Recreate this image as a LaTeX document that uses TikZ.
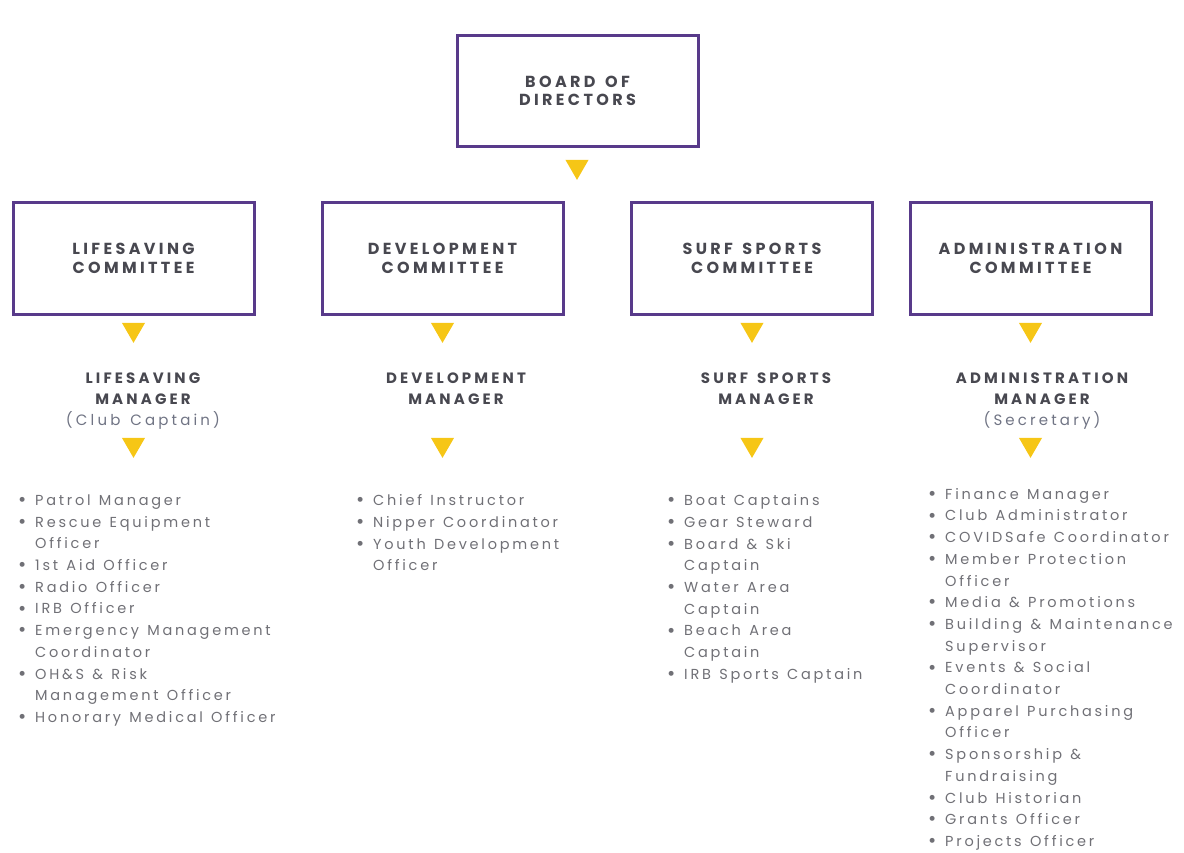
\documentclass[tikz,border=0pt]{standalone}
\usepackage{fontspec}
\setmainfont{Poppins}
\newfontfamily\headfont[LetterSpace=21,WordSpace=1.4]{Poppins}
\newfontfamily\listfont[LetterSpace=19,WordSpace=1.25]{Poppins}
\usetikzlibrary{shapes.geometric}
\definecolor{clubpurple}{RGB}{88,58,138}
\definecolor{clubgold}{RGB}{246,198,22}
\definecolor{headgray}{RGB}{72,72,80}
\definecolor{listgray}{RGB}{112,112,118}
\definecolor{notegray}{RGB}{112,116,132}
\newcommand\itm{\makebox[17pt][l]{\raisebox{-1.2pt}{\fontsize{20}{20}\selectfont\textbullet}}}
\newcommand\cnt{\hspace*{17pt}}

\begin{document}
\begin{tikzpicture}[x=1pt,y=-1pt,
    box/.style={draw=clubpurple,line width=3pt,minimum width=241pt,minimum height=111pt,align=center,
        text=headgray,font=\headfont\bfseries\fontsize{16}{18.5}\selectfont},
    arrowtri/.style={regular polygon,regular polygon sides=3,shape border rotate=180,
        fill=clubgold,minimum size=26.6pt,inner sep=0pt},
    mgr/.style={align=center,anchor=north,inner sep=0pt,text=headgray,
        font=\headfont\bfseries\fontsize{15}{21}\selectfont},
    items/.style={align=left,anchor=north west,inner sep=0pt,text=listgray,
        font=\listfont\fontsize{14.5}{21.7}\selectfont}]
  \useasboundingbox (0,0) rectangle (1184,853);
  % top
  \node[box] (board) at (577.5,91) {BOARD OF\\DIRECTORS};
  \node[arrowtri] (tb) at (577,166.6) {};
  % committee boxes and their arrows
  \foreach \n/\x/\lbl in {ls/133.5/LIFESAVING,dev/442.5/DEVELOPMENT,surf/752/SURF SPORTS,adm/1030.5/ADMINISTRATION}{
    \node[box] (\n) at (\x,258.5) {\lbl\\COMMITTEE};
    \node[arrowtri] (\n t1) at (\x,329.6) {};
    \node[arrowtri] (\n t2) at (\x,444.6) {};
  }
  % managers
  \node[mgr] (lsm) at (143,373) {LIFESAVING\\MANAGER\\{\mdseries\color{notegray}(Club Captain)}};
  \node[mgr] (devm) at (456,373) {DEVELOPMENT\\MANAGER};
  \node[mgr] (surfm) at (766,373) {SURF SPORTS\\MANAGER};
  \node[mgr] (admm) at (1042,373) {ADMINISTRATION\\MANAGER\\{\mdseries\color{notegray}(Secretary)}};
  % lists
  \node[items] (lsl) at (18,494.5) {\itm Patrol Manager\\
    \itm Rescue Equipment\\ \cnt Officer\\
    \itm 1st Aid Officer\\
    \itm Radio Officer\\
    \itm IRB Officer\\
    \itm Emergency Management\\ \cnt Coordinator\\
    \itm OH\&S \& Risk\\ \cnt Management Officer\\
    \itm Honorary Medical Officer};
  \node[items] (devl) at (356,494.5) {\itm Chief Instructor\\
    \itm Nipper Coordinator\\
    \itm Youth Development\\ \cnt Officer};
  \node[items] (surfl) at (667,494.5) {\itm Boat Captains\\
    \itm Gear Steward\\
    \itm Board \& Ski\\ \cnt Captain\\
    \itm Water Area\\ \cnt Captain\\
    \itm Beach Area\\ \cnt Captain\\
    \itm IRB Sports Captain};
  \node[items] (adml) at (928,488) {\itm Finance Manager\\
    \itm Club Administrator\\
    \itm COVIDSafe Coordinator\\
    \itm Member Protection\\ \cnt Officer\\
    \itm Media \& Promotions\\
    \itm Building \& Maintenance\\ \cnt Supervisor\\
    \itm Events \& Social\\ \cnt Coordinator\\
    \itm Apparel Purchasing\\ \cnt Officer\\
    \itm Sponsorship \&\\ \cnt Fundraising\\
    \itm Club Historian\\
    \itm Grants Officer\\
    \itm Projects Officer};
\end{tikzpicture}
\end{document}
